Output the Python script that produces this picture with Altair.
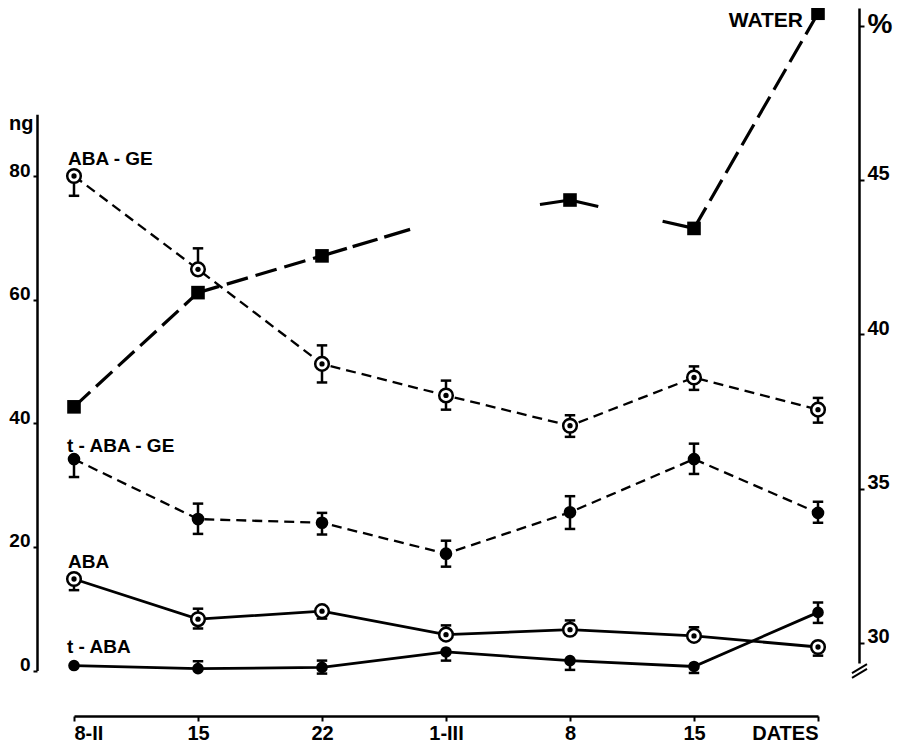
import json
import altair as alt
import pandas as pd

# ---------------- data ----------------
x_labels = ["8-II", "15", "22", "1-III", "8", "15", "DATES"]

aba_ge    = [80.0, 64.9, 49.6, 44.5, 39.6, 47.4, 42.2]
aba_ge_lo = [76.8, 64.9, 46.6, 42.2, 37.8, 45.4, 40.1]
aba_ge_hi = [80.0, 68.3, 52.6, 46.9, 41.3, 49.2, 44.1]

t_aba_ge    = [34.2, 24.5, 23.9, 18.9, 25.6, 34.2, 25.5]
t_aba_ge_lo = [31.3, 22.1, 22.0, 16.8, 22.9, 31.8, 23.9]
t_aba_ge_hi = [34.2, 27.0, 25.5, 21.0, 28.2, 36.7, 27.3]

aba    = [14.8, 8.3, 9.6, 5.8, 6.6, 5.6, 3.8]
aba_lo = [13.0, 6.8, 8.4, 5.8, 6.6, 5.6, 2.4]
aba_hi = [14.8, 10.0, 9.6, 7.3, 8.1, 7.0, 3.8]

t_aba    = [0.8, 0.3, 0.5, 3.0, 1.6, 0.65, 9.4]
t_aba_lo = [0.8, 0.3, -0.5, 1.6, 0.1, -0.4, 7.7]
t_aba_hi = [0.8, 1.5, 1.6, 3.0, 1.6, 0.65, 11.0]

water = [37.65, 41.35, 42.54, 43.75, 44.35, 43.43, 50.4]
water_marker = [True, True, True, False, True, True, True]

left_ticks = [0, 20, 40, 60, 80]
right_ticks = [30, 35, 40, 45, 50]

series_names = ["ABA - GE", "t - ABA - GE", "ABA", "t - ABA"]

# ---------------- styles ----------------
FONT = "Liberation Sans, Arial, Helvetica, sans-serif"
BLACK = "#000000"
W, H = 822, 660

LS = alt.Scale(domain=[0, 90], range=[658.5, 102.2], nice=False, zero=False)
RS = alt.Scale(domain=[29.352, 50.57], range=[651, -4], nice=False, zero=False)
XS = alt.Scale(domain=[0, 6], range=[37, 781], nice=False, zero=False)

x_expr = json.dumps(x_labels) + "[datum.value]"
XA = alt.Axis(orient="bottom", offset=44, values=list(range(7)), labelExpr=x_expr,
              labelFlush=True, tickSize=5, labelPadding=2.5, title=None, grid=False,
              labelFontSize=20)
LA = alt.Axis(orient="left", values=left_ticks, title="ng", titleAngle=0,
              titleAlign="right", titleBaseline="alphabetic", titleX=-4, titleY=117,
              titleFontSize=20, labelBaseline="alphabetic", tickSize=4,
              labelPadding=3, grid=False, labelFontSize=19)
RA = alt.Axis(orient="right", values=right_ticks,
              labelExpr="datum.value == 50 ? '' : datum.label",
              title="%", titleAngle=0, titleAlign="left", titleBaseline="alphabetic",
              titleX=8, titleY=20, titleFontSize=28, labelBaseline="alphabetic",
              tickSize=5, labelPadding=3, grid=False, labelFontSize=20)


def X(field="i:Q"):
    return alt.X(field, scale=XS, axis=XA)


def YL(field):
    return alt.Y(field, scale=LS, axis=LA)


def YR(field):
    return alt.Y(field, scale=RS, axis=RA)


def frame(vals, lo, hi):
    return pd.DataFrame({"i": list(range(len(vals))), "v": vals, "lo": lo, "hi": hi})


d_aba_ge = frame(aba_ge, aba_ge_lo, aba_ge_hi)
d_t_aba_ge = frame(t_aba_ge, t_aba_ge_lo, t_aba_ge_hi)
d_aba = frame(aba, aba_lo, aba_hi)
d_t_aba = frame(t_aba, t_aba_lo, t_aba_hi)
all_df = pd.concat([d_aba_ge, d_t_aba_ge, d_aba, d_t_aba], ignore_index=True)

bars = all_df[all_df["lo"] < all_df["hi"]]
cap_rows = []
for r in all_df.itertuples():
    if r.lo < r.v:
        cap_rows.append({"i": r.i, "c": r.lo})
    if r.hi > r.v:
        cap_rows.append({"i": r.i, "c": r.hi})
caps = pd.DataFrame(cap_rows)

# ---------------- left-axis layers ----------------
line_aba_ge = alt.Chart(d_aba_ge).mark_line(color=BLACK, strokeWidth=2.3, strokeDash=[10, 6]).encode(x=X(), y=YL("v:Q"))
line_t_aba_ge = alt.Chart(d_t_aba_ge).mark_line(color=BLACK, strokeWidth=2.3, strokeDash=[10, 6]).encode(x=X(), y=YL("v:Q"))
line_aba = alt.Chart(d_aba).mark_line(color=BLACK, strokeWidth=2.8).encode(x=X(), y=YL("v:Q"))
line_t_aba = alt.Chart(d_t_aba).mark_line(color=BLACK, strokeWidth=2.8).encode(x=X(), y=YL("v:Q"))

err = alt.Chart(bars).mark_rule(color=BLACK, strokeWidth=2.5).encode(x=X(), y=YL("lo:Q"), y2="hi:Q")
cap = alt.Chart(caps).mark_point(shape="M-1,0L1,0", filled=False, color=BLACK,
                                 strokeWidth=2.5, size=110, opacity=1).encode(x=X(), y=YL("c:Q"))

dot_t_aba_ge = alt.Chart(d_t_aba_ge).mark_point(shape="circle", filled=True, color=BLACK,
                                                size=160, opacity=1).encode(x=X(), y=YL("v:Q"))
dot_t_aba = alt.Chart(d_t_aba).mark_point(shape="circle", filled=True, color=BLACK,
                                          size=135, opacity=1).encode(x=X(), y=YL("v:Q"))
open_df = pd.concat([d_aba_ge, d_aba], ignore_index=True)
ring = alt.Chart(open_df).mark_point(shape="circle", filled=True, fill="white", stroke=BLACK,
                                     strokeWidth=2.5, size=185, opacity=1).encode(x=X(), y=YL("v:Q"))
core = alt.Chart(open_df).mark_point(shape="circle", filled=True, color=BLACK,
                                     size=28, opacity=1).encode(x=X(), y=YL("v:Q"))

label_style = [(-6, -11), (-7, -7), (-6, -11), (-7, -13)]
label_layers = []
for name, d, (dx, dy) in zip(series_names, [d_aba_ge, d_t_aba_ge, d_aba, d_t_aba], label_style):
    ld = d.iloc[[0]].assign(label=name)
    label_layers.append(
        alt.Chart(ld).mark_text(align="left", baseline="alphabetic", dx=dx, dy=dy,
                                font=FONT, fontSize=19, fontWeight="bold", color=BLACK)
        .encode(x=X(), y=YL("v:Q"), text="label:N")
    )

brk = alt.Chart(pd.DataFrame({"k": [0]})).mark_point(
    shape="M-1,0.27L1,-0.93M-1,0.93L1,-0.27", filled=False, color=BLACK,
    strokeWidth=2, size=225, opacity=1
).encode(x=alt.value(W + 0.5), y=alt.value(659))

left = alt.layer(line_aba_ge, line_t_aba_ge, line_aba, line_t_aba, err, cap,
                 dot_t_aba_ge, dot_t_aba, ring, core, *label_layers, brk)

# ---------------- right-axis layers (water) ----------------
seg_dash = [[22, 8], [22, 8], [26, 6, 26, 7, 27, 400], [0, 95, 40], [29, 66, 40], [24, 8]]
water_layers = []
for k in range(len(water) - 1):
    sd = pd.DataFrame({"i": [k, k + 1], "w": [water[k], water[k + 1]]})
    water_layers.append(
        alt.Chart(sd).mark_line(color=BLACK, strokeWidth=3.2, strokeDash=seg_dash[k])
        .encode(x=X(), y=YR("w:Q"))
    )
wd = pd.DataFrame({"i": list(range(len(water))), "w": water, "show": water_marker})
wd_shown = wd[wd["show"]]
squares = alt.Chart(wd_shown).mark_point(shape="square", filled=True, color=BLACK,
                                         size=185, opacity=1).encode(x=X(), y=YR("w:Q"))
wlabel = alt.Chart(wd.iloc[[len(water) - 1]].assign(label="WATER")).mark_text(
    align="right", baseline="alphabetic", dx=-15, dy=14, font=FONT, fontSize=21,
    fontWeight="bold", color=BLACK
).encode(x=X(), y=YR("w:Q"), text="label:N")

right = alt.layer(*water_layers, squares, wlabel)

chart = (
    alt.layer(left, right)
    .resolve_scale(y="independent")
    .properties(width=W, height=H, autosize=alt.AutoSizeParams(type="none"),
                padding={"left": 29, "top": 4, "right": 35, "bottom": 75},
                background="white")
    .configure_view(stroke=None)
    .configure_axis(domainColor=BLACK, domainWidth=2.5, tickColor=BLACK, tickWidth=2,
                    labelColor=BLACK, labelFont=FONT, labelFontWeight="bold",
                    titleColor=BLACK, titleFont=FONT, titleFontWeight="bold")
)

chart.save("out.html", embed_options={"renderer": "svg", "actions": False})
